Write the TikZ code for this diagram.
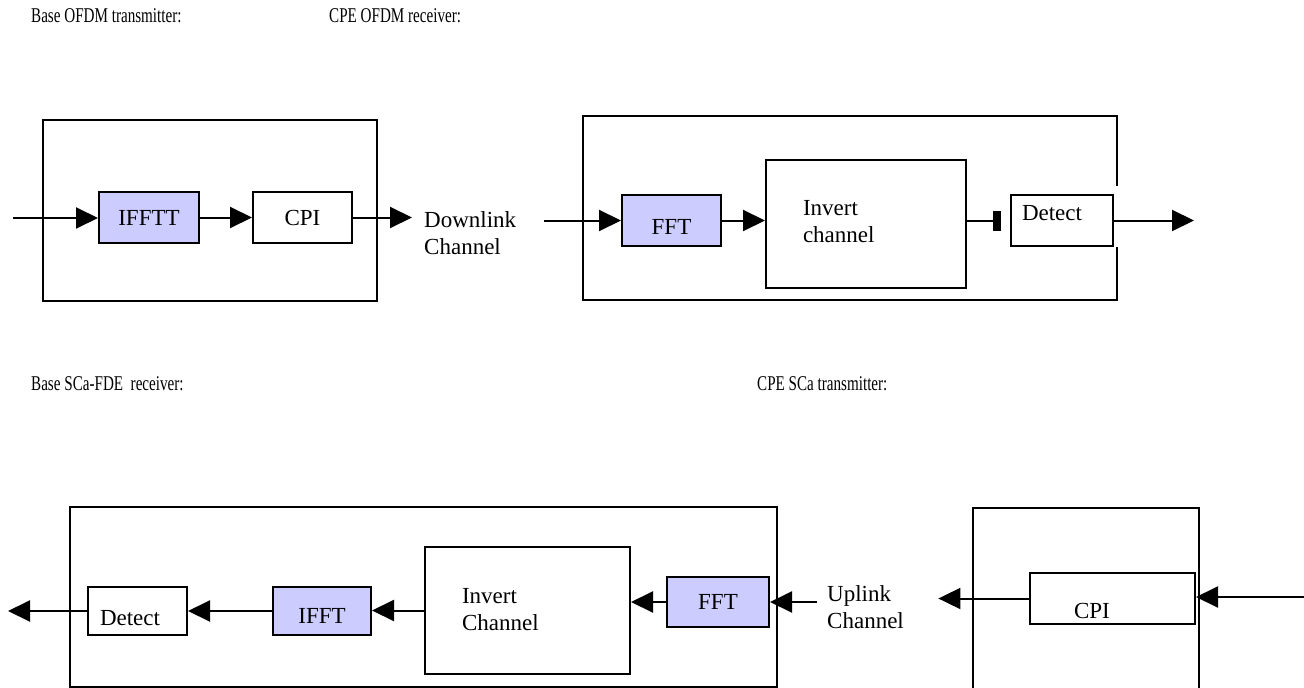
\documentclass[tikz,border=0pt]{standalone}
\usepackage{fontspec}
\setmainfont{Liberation Serif}
\newfontfamily\narrowfont[FakeStretch=0.72]{Liberation Serif}
\usepackage{xcolor}
\definecolor{lavender}{RGB}{204,204,255}
\usetikzlibrary{arrows.meta, positioning}

\begin{document}
\begin{tikzpicture}[
    x=1pt, y=-1pt,
    frame/.style={draw, line width=2pt, inner sep=0pt},
    blk/.style={draw, line width=2pt, inner sep=0pt, fill=white, font=\fontsize{23}{27}\selectfont},
    proc/.style={blk, fill=lavender},
    ttl/.style={anchor=base west, inner sep=0pt, font=\narrowfont\fontsize{21}{25}\selectfont},
    chn/.style={anchor=west, inner ysep=0pt, align=left, font=\fontsize{23}{27}\selectfont},
    edge/.style={-{Triangle[length=22pt,width=21pt]}, line width=2pt},
    stub/.style={-{Rectangle[length=8pt,width=20pt]}, line width=2pt}
]
    \useasboundingbox (0,0) rectangle (1304,688);
    \clip (0,0) rectangle (1304,688);

    % titles
    \node[ttl] (ttlTx) at (31,22) {Base OFDM transmitter:};
    \node[ttl] (ttlRx) at (329,22) {CPE OFDM receiver:};
    \node[ttl] (ttlRxB) at (31,390) {Base SCa-FDE\ \ receiver:};
    \node[ttl] (ttlTxB) at (757,390) {CPE SCa transmitter:};

    % downlink: base transmitter
    \node[frame, minimum width=334pt, minimum height=181pt] (txTop) at (210,210.5) {};
    \node[proc, minimum width=100pt, minimum height=51pt] (ifftt) at (149,217.5) {IFFTT};
    \node[blk, minimum width=99pt, minimum height=51pt, right=52pt of ifftt] (cpiTop) {CPI};
    \coordinate (txIn) at (13,218);
    \draw[edge] (txIn) -- (txIn -| ifftt.west);
    \draw[edge] (ifftt) -- (cpiTop);

    \node[chn, text width=108pt, inner xsep=12pt] (dl) at (412,233.6) {Downlink\\Channel};
    \draw[edge] (cpiTop.east) -- (cpiTop.east -| dl.west);

    % downlink: CPE receiver
    \node[frame, draw=none, minimum width=532pt, minimum height=182pt] (rxTop) at (850,208) {};
    \node[proc, minimum width=99pt, minimum height=51pt, text height=27pt, text depth=0pt] (fftTop) at (671.5,220.5) {FFT};
    \node[blk, minimum width=200pt, minimum height=128pt, text width=126pt, align=left,
          text height=10pt, text depth=28pt] (invTop) at (866,224) {Invert\\channel};
    \node[blk, minimum width=102pt, minimum height=51pt, text width=80pt, align=left,
          text height=8pt, text depth=9pt] (detTop) at (1062,220.5) {Detect};
    \draw[line width=2pt] ([yshift=8pt]detTop.north -| rxTop.east) -- (rxTop.north east)
        -- (rxTop.north west) -- (rxTop.south west) -- (rxTop.south east) -- (detTop.south -| rxTop.east);
    \coordinate (rxOut) at (1194,218);
    \draw[edge] (dl.east |- fftTop.west) -- (fftTop.west);
    \draw[edge] (fftTop.east) -- (fftTop.east -| invTop.west);
    \draw[stub, shorten >=9pt] (invTop.east |- detTop.west) -- (detTop.west);
    \draw[edge] (detTop.east) -- (detTop.east -| rxOut);

    % uplink: base receiver
    \node[frame, minimum width=707pt, minimum height=180pt] (rxBot) at (423.5,597) {};
    \node[blk, minimum width=99pt, minimum height=48pt, text width=75pt, align=left,
          text height=28pt, text depth=0pt] (detBot) at (137.5,611) {Detect};
    \node[proc, minimum width=98pt, minimum height=48pt, text height=24pt, text depth=0pt] (ifftBot) at (322,611) {IFFT};
    \node[blk, minimum width=205pt, minimum height=127pt, text width=131pt, align=left,
          text height=10pt, text depth=25pt] (invBot) at (527.5,610.5) {Invert\\Channel};
    \node[proc, minimum width=102pt, minimum height=50pt] (fftBot) at (718,602) {FFT};
    \coordinate (rxBOut) at (8,613);
    \draw[edge] (detBot.west) -- (detBot.west -| rxBOut);
    \draw[edge] (ifftBot) -- (detBot);
    \draw[edge] (invBot.west) -- (invBot.west -| ifftBot.east);
    \draw[edge] (fftBot.west) -- (fftBot.west -| invBot.east);

    \node[chn, text width=101pt, inner xsep=10pt] (ul) at (817,606.7) {Uplink\\Channel};
    \draw[edge] (ul.west |- fftBot.east) -- (fftBot.east);

    % uplink: CPE transmitter
    \node[frame, draw=none, minimum width=224pt, minimum height=182pt] (txBot) at (1086,600) {};
    \draw[line width=2pt] (txBot.south west) -- (txBot.north west) -- (txBot.north east) -- (txBot.south east);
    \node[blk, minimum width=165pt, minimum height=51pt, text width=77pt, align=left,
          text height=39pt, text depth=0pt] (cpiBot) at (1112.5,598.5) {CPI};
    \coordinate (txBIn) at (1304,597);
    \draw[edge] (txBIn) -- (txBIn -| cpiBot.east);
    \draw[edge] (cpiBot.west) -- (cpiBot.west -| ul.east);

\end{tikzpicture}
\end{document}
